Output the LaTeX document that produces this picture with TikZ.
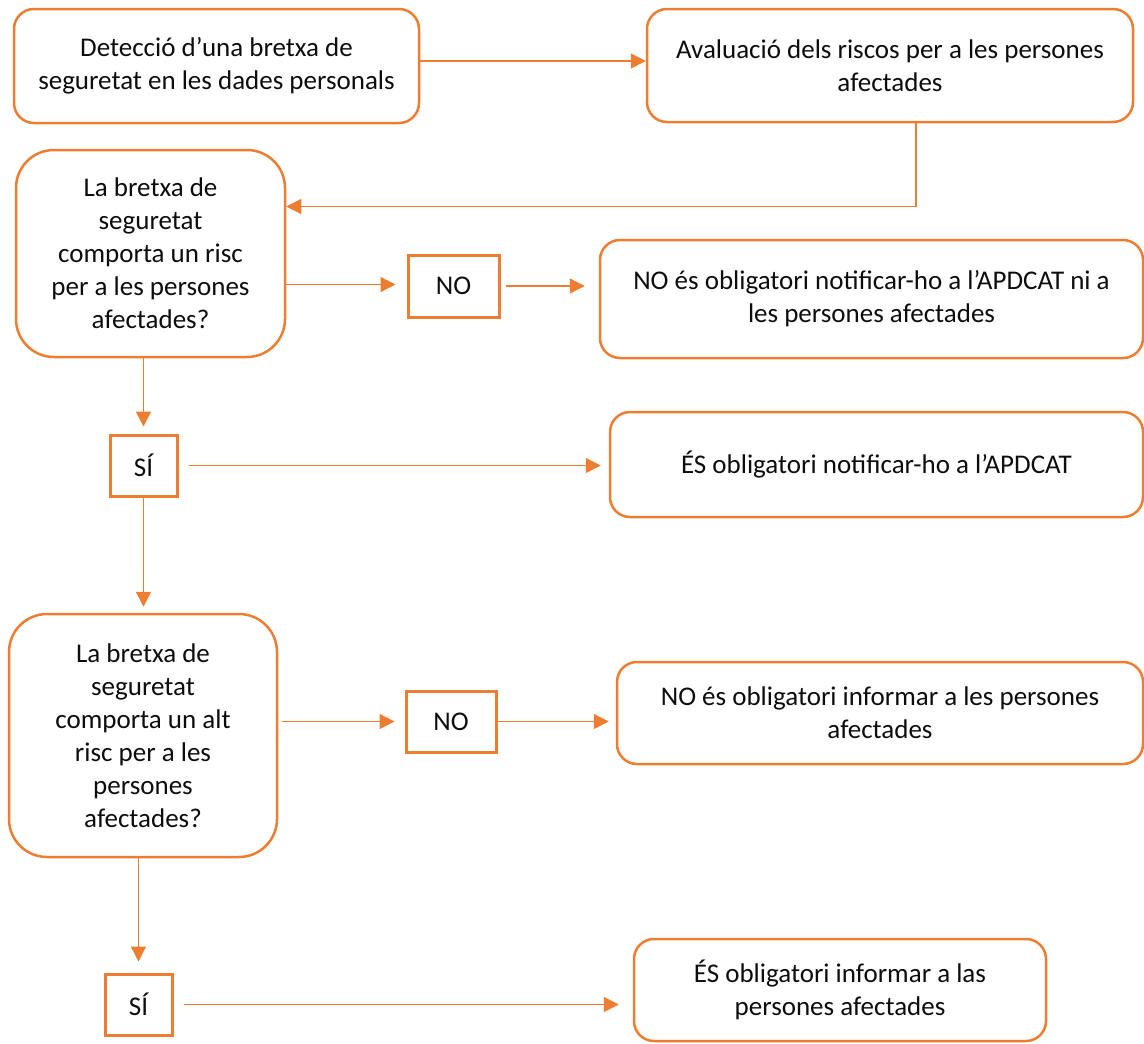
\documentclass[tikz,border=0pt]{standalone}
\usepackage{fontspec}
\setmainfont{Carlito}
\usetikzlibrary{arrows.meta}
\definecolor{flowOrange}{RGB}{237,125,49}
\definecolor{flowText}{RGB}{13,13,13}

\begin{document}
\begin{tikzpicture}[x=1pt, y=-1pt, text=flowText, draw=flowOrange, >={Triangle[length=15pt,width=15pt]}, font=\fontsize{27}{33}\selectfont]
		\useasboundingbox (0,0) rectangle (1144,1044);
		\begin{scope}[every node/.style={draw, rounded corners=20pt, line width=2.5pt, align=center, inner sep=0pt}]
			\node (det) at (216.5,66) [minimum width=405pt, minimum height=114pt] {Detecció d’una bretxa de\\seguretat en les dades personals};
			\node (aval) at (890,65.5) [minimum width=486pt, minimum height=113pt] {Avaluació dels riscos per a les persones\\afectades};
			\node (res1) at (871.5,299) [minimum width=543pt, minimum height=118pt] {NO és obligatori notificar-ho a l’APDCAT ni a\\les persones afectades};
			\node (res2) at (876.5,464.5) [minimum width=533pt, minimum height=105pt] {ÉS obligatori notificar-ho a l’APDCAT};
			\node (res3) at (880,713) [minimum width=526pt, minimum height=102pt] {NO és obligatori informar a les persones\\afectades};
			\node (res4) at (840,990) [minimum width=412pt, minimum height=102pt] {ÉS obligatori informar a las\\persones afectades};
		\end{scope}
		\begin{scope}[every node/.style={draw, rounded corners=38pt, line width=2.5pt, align=center, inner sep=0pt}]
			\node (q1) at (150.5,253.5) [minimum width=269pt, minimum height=207pt] {La bretxa de\\seguretat\\comporta un risc\\per a les persones\\afectades?};
			\node (q2) at (143,735.5) [minimum width=268pt, minimum height=243pt] {La bretxa de\\seguretat\\comporta un alt\\risc per a les\\persones\\afectades?};
		\end{scope}
		\begin{scope}[every node/.style={draw, line width=3pt, inner sep=0pt}]
			\node (no1) at (453.5,286) [minimum width=91pt, minimum height=62pt] {NO};
			\node (si1) at (143.5,465.5) [minimum width=67pt, minimum height=61pt] {SÍ};
			\node (no2) at (451,721.5) [minimum width=90pt, minimum height=61pt] {NO};
			\node (si2) at (138.5,1004.5) [minimum width=67pt, minimum height=61pt] {SÍ};
		\end{scope}

		\coordinate (detOut) at ([yshift=5pt]det.east);
		\coordinate (avalOut) at ([xshift=26pt]aval.south);
		\coordinate (q1In) at ([yshift=47pt]q1.east);
		\coordinate (q1Out) at ([yshift=-31pt]q1.east);

		\draw [->, line width=1.3pt] (avalOut) |- (q1In);
		\begin{scope}[every edge/.style={draw=flowOrange, line width=1.3pt}]
			\path [->] (detOut) edge (detOut -| aval.west);
			\path [->] (q1Out) edge [shorten >=11pt] (q1Out -| no1.west);
			\path [->] (no1.east) edge [shorten <=5pt, shorten >=14pt] (no1.east -| res1.west);
			\path [->] (q1.south -| si1.north) edge [shorten >=7pt] (si1.north);
			\path [->] (si1.east) edge [shorten <=10pt, shorten >=8pt] (si1.east -| res2.west);
			\path [->] (si1.south) edge [shorten >=6pt] (si1.south |- q2.north);
			\path [->] (q2.east |- no2.west) edge [shorten <=4pt, shorten >=10pt] (no2.west);
			\path [->] (no2.east) edge [shorten >=7pt] (no2.east -| res3.west);
			\path [->] (q2.south -| si2.north) edge [shorten >=11pt] (si2.north);
			\path [->] (si2.east) edge [shorten <=10pt, shorten >=14pt] (si2.east -| res4.west);
		\end{scope}
	\end{tikzpicture}
\end{document}
